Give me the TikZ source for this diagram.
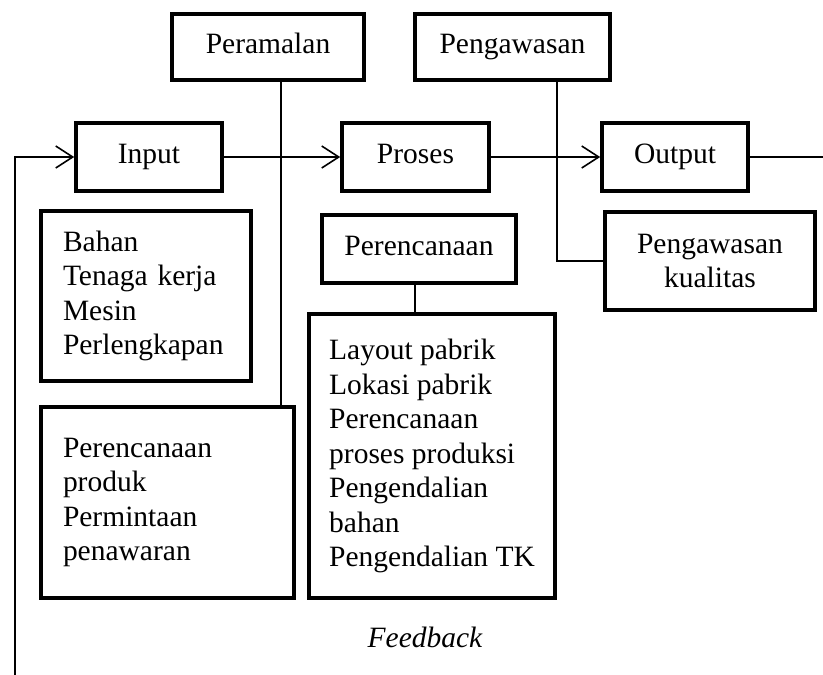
\documentclass[tikz,border=0pt]{standalone}
\usepackage{fontspec}
\setmainfont{Liberation Serif}
\usetikzlibrary{arrows.meta}
\begin{document}
\begin{tikzpicture}[x=1pt,y=-1pt,
  every node/.style={font=\fontsize{29.5}{34.5}\selectfont},
  box/.style={draw,line width=3.6pt,inner sep=0pt,align=center,text height=20pt,text depth=7pt},
  listbox/.style={draw,line width=3.6pt,inner xsep=22pt,inner ysep=0pt,align=left},
  link/.style={line width=1.6pt},
  flow/.style={line width=1.6pt,-{Straight Barb[length=17pt,width=22pt]}}]
  \useasboundingbox[fill=white] (0,0) rectangle (823,675);

  % top boxes
  \node[box,minimum width=192pt,minimum height=66pt] (peramalan) at (268,47) {Peramalan};
  \node[box,minimum width=195pt,minimum height=66pt] (pengawasan) at (512.5,47) {Pengawasan};

  % main flow
  \node[box,minimum width=146pt,minimum height=68pt] (input) at (149,157) {Input};
  \node[box,minimum width=147pt,minimum height=68pt] (proses) at (415.5,157) {Proses};
  \node[box,minimum width=146pt,minimum height=68pt] (output) at (675,157) {Output};

  % detail boxes
  \node[listbox,text width=166pt,minimum height=170pt] (bahan) at (146,296)
    {Bahan\\Tenaga kerja\\Mesin\\Perlengkapan};
  \node[listbox,text width=209pt,minimum height=191pt] (produk) at (167.5,502.5)
    {Perencanaan\\produk\\Permintaan\\penawaran};
  \node[box,minimum width=194pt,minimum height=68pt] (perencanaan) at (419,249) {Perencanaan};
  \node[draw,line width=3.6pt,inner sep=0pt,align=left,minimum width=246pt,minimum height=284pt]
    (list) at (432,456)
    {Layout pabrik\\Lokasi pabrik\\Perencanaan\\proses produksi\\Pengendalian\\bahan\\Pengendalian TK};
  \node[draw,line width=3.6pt,inner sep=0pt,align=center,minimum width=210pt,minimum height=98pt]
    (kualitas) at (710,261) {Pengawasan\\kualitas};

  \node (feedback) at (425,637) {\itshape Feedback};

  \coordinate (fbstart) at (15,675);
  \coordinate (outend) at (823,157);

  % connectors
  \draw[flow] (input.east) -- (proses.west);
  \draw[flow] (proses.east) -- (output.west);
  \draw[link] (output.east) -- (outend);
  \draw[flow] (fbstart) |- (input.west);
  \draw[link] ([xshift=13pt]peramalan.south) -- ([xshift=13pt]peramalan.south |- produk.north);
  \draw[link] ([xshift=44.5pt]pengawasan.south) |- (kualitas.west);
  \draw[link] ([xshift=-4pt]perencanaan.south) -- ([xshift=-4pt]perencanaan.south |- list.north);
\end{tikzpicture}
\end{document}
